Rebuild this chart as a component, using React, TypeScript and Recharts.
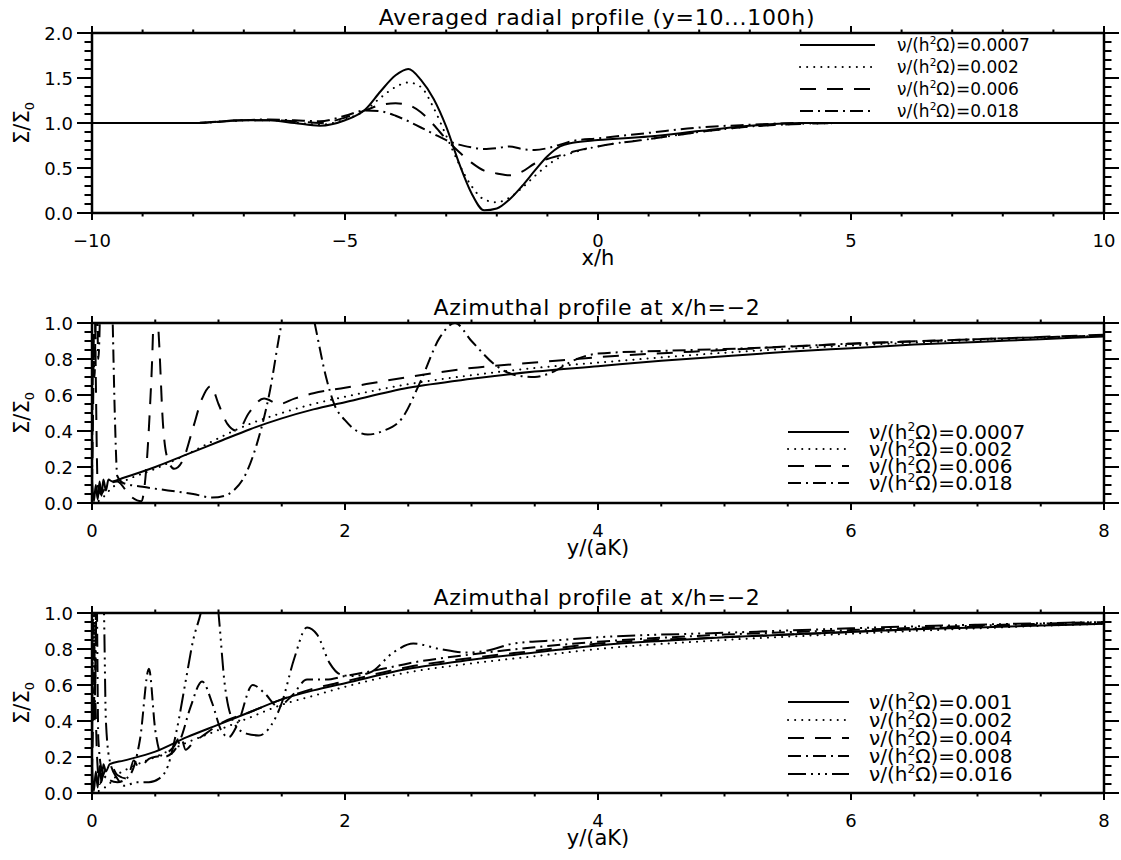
import { LineChart, Line, XAxis, YAxis } from 'recharts';

const FONT = '"DejaVu Sans", sans-serif';
const W = 1121;
const H = 290;
// axes are 1px boxes, so the plot area is 92..1104 x 33..213
const MARGIN = { top: 32, right: 16, bottom: 76, left: 91 };

// ---- top panel: averaged radial profile ----
const radialX = [-10, -8, -7, -6.5, -6, -5.5, -5, -4.6, -4.3, -4, -3.75, -3.5, -3.25, -3, -2.75, -2.5, -2.25, -2, -1.75, -1.5, -1.25, -1, -0.75, -0.5, 0, 1, 2, 3, 4, 5, 7, 10];
const radialNu0007 = [1.0, 1.0, 1.03, 1.03, 1.0, 0.97, 1.03, 1.15, 1.35, 1.53, 1.6, 1.48, 1.27, 0.96, 0.56, 0.22, 0.03, 0.05, 0.15, 0.3, 0.47, 0.63, 0.74, 0.78, 0.81, 0.85, 0.91, 0.97, 1.0, 1.0, 1.0, 1.0];
const radialNu002 = [1.0, 1.0, 1.03, 1.03, 1.01, 0.98, 1.04, 1.14, 1.28, 1.4, 1.45, 1.4, 1.17, 0.86, 0.55, 0.3, 0.15, 0.12, 0.17, 0.28, 0.41, 0.53, 0.62, 0.67, 0.74, 0.82, 0.9, 0.96, 0.99, 1.0, 1.0, 1.0];
const radialNu006 = [1.0, 1.0, 1.03, 1.03, 1.02, 1.0, 1.06, 1.14, 1.2, 1.22, 1.2, 1.12, 0.98, 0.82, 0.68, 0.56, 0.47, 0.44, 0.42, 0.46, 0.55, 0.6, 0.64, 0.68, 0.74, 0.82, 0.9, 0.96, 0.99, 1.0, 1.0, 1.0];
const radialNu018 = [1.0, 1.0, 1.03, 1.04, 1.03, 1.02, 1.08, 1.14, 1.13, 1.08, 1.02, 0.95, 0.88, 0.81, 0.76, 0.73, 0.71, 0.72, 0.74, 0.71, 0.7, 0.72, 0.76, 0.8, 0.83, 0.89, 0.95, 0.98, 1.0, 1.0, 1.0, 1.0];

const radialXTicks = [-10, -9, -8, -7, -6, -5, -4, -3, -2, -1, 0, 1, 2, 3, 4, 5, 6, 7, 8, 9, 10];
const radialXMajor = [-10, -5, 0, 5, 10];
const radialYTicks = [0, 0.1, 0.2, 0.3, 0.4, 0.5, 0.6, 0.7, 0.8, 0.9, 1.0, 1.1, 1.2, 1.3, 1.4, 1.5, 1.6, 1.7, 1.8, 1.9, 2.0];
const radialYMajor = [0, 0.5, 1.0, 1.5, 2.0];

// ---- middle panel: azimuthal profile, first run ----
const azAx0007 = [0, 0.015, 0.03, 0.045, 0.06, 0.075, 0.09, 0.11, 0.13, 0.16, 0.25, 0.5, 0.75, 1, 1.25, 1.5, 1.75, 2, 2.5, 3, 3.5, 4, 4.5, 5, 5.5, 6, 6.5, 7, 7.5, 8];
const azAv0007 = [0.13, 0.01, 0.1, 0.02, 0.12, 0.04, 0.13, 0.07, 0.13, 0.12, 0.14, 0.2, 0.27, 0.34, 0.41, 0.47, 0.52, 0.56, 0.64, 0.69, 0.73, 0.76, 0.79, 0.815, 0.84, 0.86, 0.88, 0.895, 0.91, 0.925];
const azAx002 = [0, 0.05, 0.1, 0.15, 0.25, 0.5, 0.75, 1, 1.25, 1.5, 1.75, 2, 2.5, 3, 3.5, 4, 5, 6, 7, 8];
const azAv002 = [0.0, 0.01, 0.04, 0.08, 0.12, 0.19, 0.27, 0.36, 0.44, 0.5, 0.55, 0.59, 0.66, 0.71, 0.75, 0.78, 0.835, 0.875, 0.905, 0.93];
const azAx006 = [0, 0.01, 0.02, 0.03, 0.045, 0.07, 0.12, 0.2, 0.3, 0.39, 0.43, 0.47, 0.5, 0.53, 0.56, 0.6, 0.65, 0.72, 0.8, 0.87, 0.94, 1, 1.07, 1.15, 1.24, 1.36, 1.48, 1.6, 1.75, 2, 2.5, 3, 3.5, 4, 5, 6, 7, 8];
const azAv006 = [0.1, 0.6, 1.3, 0.7, 0.1, 0.05, 0.1, 0.12, 0.04, 0.01, 0.2, 0.7, 1.2, 0.9, 0.45, 0.24, 0.19, 0.24, 0.42, 0.58, 0.65, 0.55, 0.44, 0.4, 0.5, 0.58, 0.55, 0.58, 0.61, 0.64, 0.7, 0.75, 0.78, 0.81, 0.85, 0.885, 0.91, 0.935];
const azAx018 = [0, 0.01, 0.02, 0.035, 0.05, 0.07, 0.1, 0.13, 0.16, 0.18, 0.2, 0.25, 0.4, 0.6, 0.8, 0.95, 1.05, 1.12, 1.2, 1.3, 1.4, 1.5, 1.6, 1.7, 1.76, 1.85, 1.92, 2, 2.18, 2.3, 2.45, 2.6, 2.75, 2.87, 3, 3.2, 3.35, 3.5, 3.65, 3.8, 4, 4.5, 5, 6, 7, 8];
const azAv018 = [0.1, 0.9, 0.7, 1.3, 0.8, 1.2, 1.5, 1.5, 1.1, 0.5, 0.15, 0.11, 0.09, 0.07, 0.05, 0.03, 0.04, 0.07, 0.14, 0.32, 0.6, 1.0, 1.25, 1.2, 1.0, 0.7, 0.54, 0.46, 0.38, 0.4, 0.47, 0.68, 0.92, 1.0, 0.9, 0.76, 0.71, 0.7, 0.73, 0.79, 0.83, 0.845, 0.855, 0.885, 0.91, 0.93];

// ---- bottom panel: azimuthal profile, second run ----
const azBx001 = [0, 0.015, 0.03, 0.045, 0.06, 0.075, 0.09, 0.11, 0.14, 0.25, 0.5, 0.75, 1, 1.25, 1.5, 1.75, 2, 2.5, 3, 3.5, 4, 4.5, 5, 5.5, 6, 6.5, 7, 7.5, 8];
const azBv001 = [0.15, 0.01, 0.12, 0.03, 0.15, 0.06, 0.16, 0.12, 0.16, 0.18, 0.23, 0.31, 0.38, 0.45, 0.52, 0.57, 0.61, 0.69, 0.74, 0.78, 0.82, 0.845, 0.865, 0.88, 0.895, 0.91, 0.92, 0.93, 0.94];
const azBx002 = [0, 0.05, 0.1, 0.15, 0.2, 0.3, 0.5, 0.75, 1, 1.25, 1.5, 1.75, 2, 2.5, 3, 3.5, 4, 5, 6, 7, 8];
const azBv002 = [0.0, 0.01, 0.03, 0.06, 0.1, 0.14, 0.2, 0.28, 0.35, 0.42, 0.49, 0.54, 0.59, 0.67, 0.72, 0.76, 0.8, 0.85, 0.885, 0.915, 0.94];
const azBx004 = [0, 0.02, 0.04, 0.06, 0.1, 0.15, 0.2, 0.28, 0.33, 0.37, 0.45, 0.55, 0.65, 0.7, 0.74, 0.8, 0.9, 1, 1.25, 1.5, 1.75, 2, 2.5, 3, 3.5, 4, 5, 6, 7, 8];
const azBv004 = [0.1, 0.6, 0.2, 0.05, 0.12, 0.15, 0.1, 0.08, 0.18, 0.14, 0.19, 0.21, 0.26, 0.32, 0.24, 0.28, 0.33, 0.38, 0.45, 0.52, 0.58, 0.62, 0.7, 0.75, 0.79, 0.83, 0.865, 0.895, 0.925, 0.945];
const azBx008 = [0, 0.01, 0.02, 0.035, 0.05, 0.08, 0.12, 0.2, 0.3, 0.38, 0.45, 0.5, 0.56, 0.63, 0.7, 0.78, 0.87, 0.95, 1.02, 1.08, 1.15, 1.27, 1.37, 1.47, 1.58, 1.7, 1.85, 2, 2.3, 2.5, 3, 3.5, 4, 5, 6, 7, 8];
const azBv008 = [0.2, 1.2, 0.4, 1.2, 0.3, 0.12, 0.08, 0.06, 0.1, 0.3, 0.69, 0.35, 0.2, 0.22, 0.3, 0.48, 0.62, 0.5, 0.35, 0.31, 0.38, 0.6, 0.55, 0.48, 0.54, 0.63, 0.63, 0.65, 0.69, 0.72, 0.77, 0.81, 0.84, 0.88, 0.905, 0.93, 0.95];
const azBx016 = [0, 0.01, 0.025, 0.04, 0.06, 0.08, 0.095, 0.11, 0.14, 0.2, 0.26, 0.35, 0.45, 0.53, 0.6, 0.67, 0.74, 0.8, 0.86, 0.92, 0.97, 1, 1.05, 1.13, 1.22, 1.32, 1.42, 1.5, 1.6, 1.7, 1.78, 1.88, 1.96, 2.05, 2.2, 2.38, 2.54, 2.75, 2.96, 3.12, 3.33, 3.7, 4, 5, 6, 7, 8];
const azBv016 = [0.3, 1.3, 0.6, 1.4, 1.6, 1.4, 1.0, 0.4, 0.18, 0.08, 0.04, 0.06, 0.06, 0.08, 0.15, 0.35, 0.62, 0.85, 1.0, 1.2, 1.2, 1.0, 0.6, 0.38, 0.33, 0.32, 0.38, 0.5, 0.75, 0.92, 0.88, 0.72, 0.66, 0.65, 0.67, 0.78, 0.83, 0.8, 0.78, 0.79, 0.83, 0.85, 0.865, 0.89, 0.915, 0.935, 0.95];

const azXTicks = [0, 0.5, 1, 1.5, 2, 2.5, 3, 3.5, 4, 4.5, 5, 5.5, 6, 6.5, 7, 7.5, 8];
const azXMajor = [0, 2, 4, 6, 8];
const azYTicks = [0, 0.05, 0.1, 0.15, 0.2, 0.25, 0.3, 0.35, 0.4, 0.45, 0.5, 0.55, 0.6, 0.65, 0.7, 0.75, 0.8, 0.85, 0.9, 0.95, 1.0];
const azYMajor = [0, 0.2, 0.4, 0.6, 0.8, 1.0];

// line styles, IDL-like
const SOLID = { dash: undefined, cap: 'butt' };
const DOTTED = { dash: '0.1 7', cap: 'round' };
const DASHED = { dash: '16 11', cap: 'butt' };
const DASHDOT = { dash: '13 5 2 5', cap: 'butt' };
const DASHDOT3 = { dash: '18 5 2 5 2 5 2 5', cap: 'butt' };

const pts = (xs: number[], vs: number[]) => xs.map((x, i) => ({ x, v: vs[i] }));

const panels = [
  {
    title: 'Averaged radial profile (y=10...100h)',
    xLabel: 'x/h',
    xDomain: [-10, 10],
    yDomain: [0, 2],
    xTicks: radialXTicks,
    xMajor: radialXMajor,
    yTicks: radialYTicks,
    yMajor: radialYMajor,
    xFmt: (v: number) => (v < 0 ? '\u2212' + Math.abs(v) : String(v)),
    legend: { x1: 800, x2: 875, tx: 897, rows: [45, 67, 89, 111], fontSize: 17 },
    series: [
      { label: '0.0007', data: pts(radialX, radialNu0007), ...SOLID },
      { label: '0.002', data: pts(radialX, radialNu002), ...DOTTED },
      { label: '0.006', data: pts(radialX, radialNu006), ...DASHED },
      { label: '0.018', data: pts(radialX, radialNu018), ...DASHDOT },
    ],
  },
  {
    title: 'Azimuthal profile at x/h=\u22122',
    xLabel: 'y/(aK)',
    xDomain: [0, 8],
    yDomain: [0, 1],
    xTicks: azXTicks,
    xMajor: azXMajor,
    yTicks: azYTicks,
    yMajor: azYMajor,
    xFmt: (v: number) => String(v),
    legend: { x1: 788, x2: 849, tx: 869, rows: [142, 159, 176, 193], fontSize: 20 },
    series: [
      { label: '0.0007', data: pts(azAx0007, azAv0007), ...SOLID },
      { label: '0.002', data: pts(azAx002, azAv002), ...DOTTED },
      { label: '0.006', data: pts(azAx006, azAv006), ...DASHED },
      { label: '0.018', data: pts(azAx018, azAv018), ...DASHDOT },
    ],
  },
  {
    title: 'Azimuthal profile at x/h=\u22122',
    xLabel: 'y/(aK)',
    xDomain: [0, 8],
    yDomain: [0, 1],
    xTicks: azXTicks,
    xMajor: azXMajor,
    yTicks: azYTicks,
    yMajor: azYMajor,
    xFmt: (v: number) => String(v),
    legend: { x1: 788, x2: 849, tx: 869, rows: [122, 140, 158, 176, 194], fontSize: 20 },
    series: [
      { label: '0.001', data: pts(azBx001, azBv001), ...SOLID },
      { label: '0.002', data: pts(azBx002, azBv002), ...DOTTED },
      { label: '0.004', data: pts(azBx004, azBv004), ...DASHED },
      { label: '0.008', data: pts(azBx008, azBv008), ...DASHDOT },
      { label: '0.016', data: pts(azBx016, azBv016), ...DASHDOT3 },
    ],
  },
];

const isMajor = (list: number[], v: number) => list.some((m) => Math.abs(m - v) < 1e-6);

// ticks point outward on all four sides; x ticks short, y ticks long (IDL ticklen)
function tickFor(side: string, majors: number[], fmt?: (v: number) => string) {
  return (p: any) => {
    const { x, y, payload } = p;
    const major = isMajor(majors, payload.value);
    if (side === 'bottom' || side === 'top') {
      const len = (major ? 7 : 3.5) * (side === 'bottom' ? 1 : -1);
      return (
        <g>
          <line x1={x} x2={x} y1={y} y2={y + len} stroke="#000" strokeWidth={2} />
          {major && fmt && (
            <text x={x} y={y + 34} textAnchor="middle" fontSize={18} fontFamily={FONT} fill="#000">
              {fmt(payload.value)}
            </text>
          )}
        </g>
      );
    }
    const len = (major ? 15 : 7.5) * (side === 'left' ? -1 : 1);
    return (
      <g>
        <line x1={x} x2={x + len} y1={y} y2={y} stroke="#000" strokeWidth={2} />
        {major && fmt && (
          <text x={x - 19} y={y + 6.5} textAnchor="end" fontSize={18} fontFamily={FONT} fill="#000">
            {fmt(payload.value)}
          </text>
        )}
      </g>
    );
  };
}

const axisLine = { stroke: '#000', strokeWidth: 2.5 };

function Panel({ cfg }: { cfg: (typeof panels)[number] }) {
  const lg = cfg.legend;
  const yFmt = (v: number) => v.toFixed(1);
  return (
    <div style={{ position: 'relative', width: W, height: H }}>
      <LineChart width={W} height={H} margin={MARGIN}>
        <XAxis
          xAxisId="b"
          type="number"
          dataKey="x"
          domain={cfg.xDomain}
          allowDataOverflow
          ticks={cfg.xTicks}
          interval={0}
          height={1}
          tickSize={0}
          tickMargin={0}
          tickLine={false}
          axisLine={axisLine}
          tick={tickFor('bottom', cfg.xMajor, cfg.xFmt)}
          label={{ value: cfg.xLabel, position: 'bottom', offset: 36, fill: '#000', fontSize: 21, fontFamily: FONT }}
        />
        <XAxis
          xAxisId="t"
          orientation="top"
          type="number"
          dataKey="x"
          domain={cfg.xDomain}
          allowDataOverflow
          ticks={cfg.xTicks}
          interval={0}
          height={1}
          tickSize={0}
          tickMargin={0}
          tickLine={false}
          axisLine={axisLine}
          tick={tickFor('top', cfg.xMajor)}
        />
        <YAxis
          yAxisId="l"
          type="number"
          domain={cfg.yDomain}
          allowDataOverflow
          ticks={cfg.yTicks}
          interval={0}
          width={1}
          tickSize={0}
          tickMargin={0}
          tickLine={false}
          axisLine={axisLine}
          tick={tickFor('left', cfg.yMajor, yFmt)}
        />
        <YAxis
          yAxisId="r"
          orientation="right"
          type="number"
          domain={cfg.yDomain}
          allowDataOverflow
          ticks={cfg.yTicks}
          interval={0}
          width={1}
          tickSize={0}
          tickMargin={0}
          tickLine={false}
          axisLine={axisLine}
          tick={tickFor('right', cfg.yMajor)}
        />
        {cfg.series.map((s) => (
          <Line
            key={s.label}
            xAxisId="b"
            yAxisId="l"
            data={s.data}
            dataKey="v"
            type="monotone"
            stroke="#000"
            strokeWidth={2}
            strokeDasharray={s.dash}
            strokeLinecap={s.cap as any}
            dot={false}
            activeDot={false}
            isAnimationActive={false}
          />
        ))}
      </LineChart>
      <svg width={W} height={H} style={{ position: 'absolute', left: 0, top: 0, pointerEvents: 'none' }}>
        <text x={597} y={17} dy="0.36em" textAnchor="middle" fontSize={22} letterSpacing={0.7} fontFamily={FONT}>
          {cfg.title}
        </text>
        <text
          x={21}
          y={123}
          transform="rotate(-90 21 123)"
          textAnchor="middle"
          dy="0.36em"
          fontSize={21}
          fontFamily={FONT}
        >
          Σ/Σ<tspan dy={5} fontSize={13}>0</tspan>
        </text>
        {cfg.series.map((s, i) => {
          const yy = lg.rows[i];
          const fs = lg.fontSize;
          return (
            <g key={s.label}>
              <line
                x1={lg.x1}
                x2={lg.x2}
                y1={yy}
                y2={yy}
                stroke="#000"
                strokeWidth={2}
                strokeDasharray={s.dash}
                strokeLinecap={s.cap as any}
              />
              <text x={lg.tx} y={yy} dy="0.36em" fontSize={fs} fontFamily={FONT}>
                ν/(h<tspan dy={-0.42 * fs} fontSize={fs * 0.62}>2</tspan>
                <tspan dy={0.42 * fs}>Ω)={s.label}</tspan>
              </text>
            </g>
          );
        })}
      </svg>
    </div>
  );
}

export default function App() {
  return (
    <div style={{ position: 'absolute', left: 0, top: 0, width: W, height: 860, background: '#fff' }}>
      {panels.map((cfg, i) => (
        <Panel key={i} cfg={cfg} />
      ))}
    </div>
  );
}
